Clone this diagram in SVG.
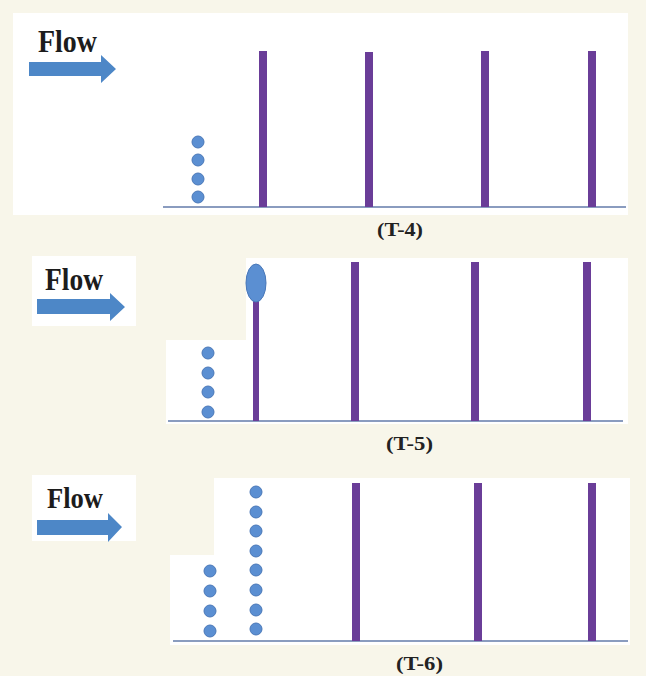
<svg xmlns="http://www.w3.org/2000/svg" width="646" height="676" viewBox="0 0 646 676">
<defs>
<style>
.flow{font-family:"Liberation Serif","Times New Roman",serif;font-weight:bold;fill:#1c1c1c}
.lbl{font-family:"Liberation Serif","Times New Roman",serif;font-weight:bold;font-size:18px;fill:#222}
.bar{fill:#6a3d98}
.base{stroke:#8a9cbf;stroke-width:2}
.dot{fill:#5b8fd2;stroke:#4a78b8;stroke-width:1}
.arrow{fill:#4d87c7}
.panel{fill:#ffffff}
</style>
</defs>
<rect x="0" y="0" width="646" height="676" fill="#f8f6ea"/>

<g id="panel-t4">
<rect class="panel" x="13" y="13" width="615" height="202"/>
<g id="flow-t4">
<text class="flow" x="38" y="52" font-size="32" textLength="59" lengthAdjust="spacingAndGlyphs">Flow</text>
<polygon class="arrow" points="29,62 101,62 101,55 116,69 101,83 101,76 29,76"/>
</g>
<line class="base" x1="163" y1="207" x2="626" y2="207"/>
<g id="bars-t4">
<rect class="bar" x="259" y="51" width="8" height="156"/>
<rect class="bar" x="365" y="52" width="8" height="155"/>
<rect class="bar" x="481" y="51" width="8" height="156"/>
<rect class="bar" x="588" y="51" width="8" height="156"/>
</g>
<g id="dots-t4">
<circle class="dot" cx="198" cy="142" r="6"/>
<circle class="dot" cx="198" cy="160" r="6"/>
<circle class="dot" cx="198" cy="179" r="6"/>
<circle class="dot" cx="198" cy="197" r="6"/>
</g>
<text class="lbl" x="377" y="236" textLength="46" lengthAdjust="spacingAndGlyphs">(T-4)</text>
</g>

<g id="panel-t5">
<rect class="panel" x="32" y="256" width="104" height="70"/>
<rect class="panel" x="246" y="258" width="382" height="166"/>
<rect class="panel" x="166" y="340" width="82" height="84"/>
<g id="flow-t5">
<text class="flow" x="45" y="290" font-size="31" textLength="58" lengthAdjust="spacingAndGlyphs">Flow</text>
<polygon class="arrow" points="37,299 110,299 110,293 125,307 110,321 110,314 37,314"/>
</g>
<line class="base" x1="168" y1="421" x2="623" y2="421"/>
<g id="bars-t5">
<rect class="bar" x="253" y="290" width="6" height="131"/>
<ellipse cx="256" cy="283" rx="10" ry="19" fill="#5b8fd2" stroke="#4a78b8" stroke-width="1"/>
<rect class="bar" x="351" y="262" width="8" height="159"/>
<rect class="bar" x="471" y="262" width="8" height="159"/>
<rect class="bar" x="583" y="262" width="8" height="159"/>
</g>
<g id="dots-t5">
<circle class="dot" cx="208" cy="353" r="6"/>
<circle class="dot" cx="208" cy="373" r="6"/>
<circle class="dot" cx="208" cy="392" r="6"/>
<circle class="dot" cx="208" cy="412" r="6"/>
</g>
<text class="lbl" x="386" y="450" textLength="47" lengthAdjust="spacingAndGlyphs">(T-5)</text>
</g>

<g id="panel-t6">
<rect class="panel" x="32" y="475" width="104" height="66"/>
<rect class="panel" x="214" y="478" width="416" height="167"/>
<rect class="panel" x="170" y="555" width="46" height="90"/>
<g id="flow-t6">
<text class="flow" x="47" y="508" font-size="29" textLength="56" lengthAdjust="spacingAndGlyphs">Flow</text>
<polygon class="arrow" points="37,520 108,520 108,513 122,527 108,542 108,535 37,535"/>
</g>
<line class="base" x1="173" y1="641" x2="628" y2="641"/>
<g id="bars-t6">
<rect class="bar" x="352" y="483" width="8" height="158"/>
<rect class="bar" x="474" y="483" width="8" height="158"/>
<rect class="bar" x="588" y="483" width="8" height="158"/>
</g>
<g id="dots-t6">
<circle class="dot" cx="210" cy="571" r="6"/>
<circle class="dot" cx="210" cy="591" r="6"/>
<circle class="dot" cx="210" cy="611" r="6"/>
<circle class="dot" cx="210" cy="631" r="6"/>
<circle class="dot" cx="256" cy="492" r="6"/>
<circle class="dot" cx="256" cy="512" r="6"/>
<circle class="dot" cx="256" cy="531" r="6"/>
<circle class="dot" cx="256" cy="551" r="6"/>
<circle class="dot" cx="256" cy="570" r="6"/>
<circle class="dot" cx="256" cy="590" r="6"/>
<circle class="dot" cx="256" cy="610" r="6"/>
<circle class="dot" cx="256" cy="629" r="6"/>
</g>
<text class="lbl" x="396" y="670" textLength="47" lengthAdjust="spacingAndGlyphs">(T-6)</text>
</g>
</svg>
